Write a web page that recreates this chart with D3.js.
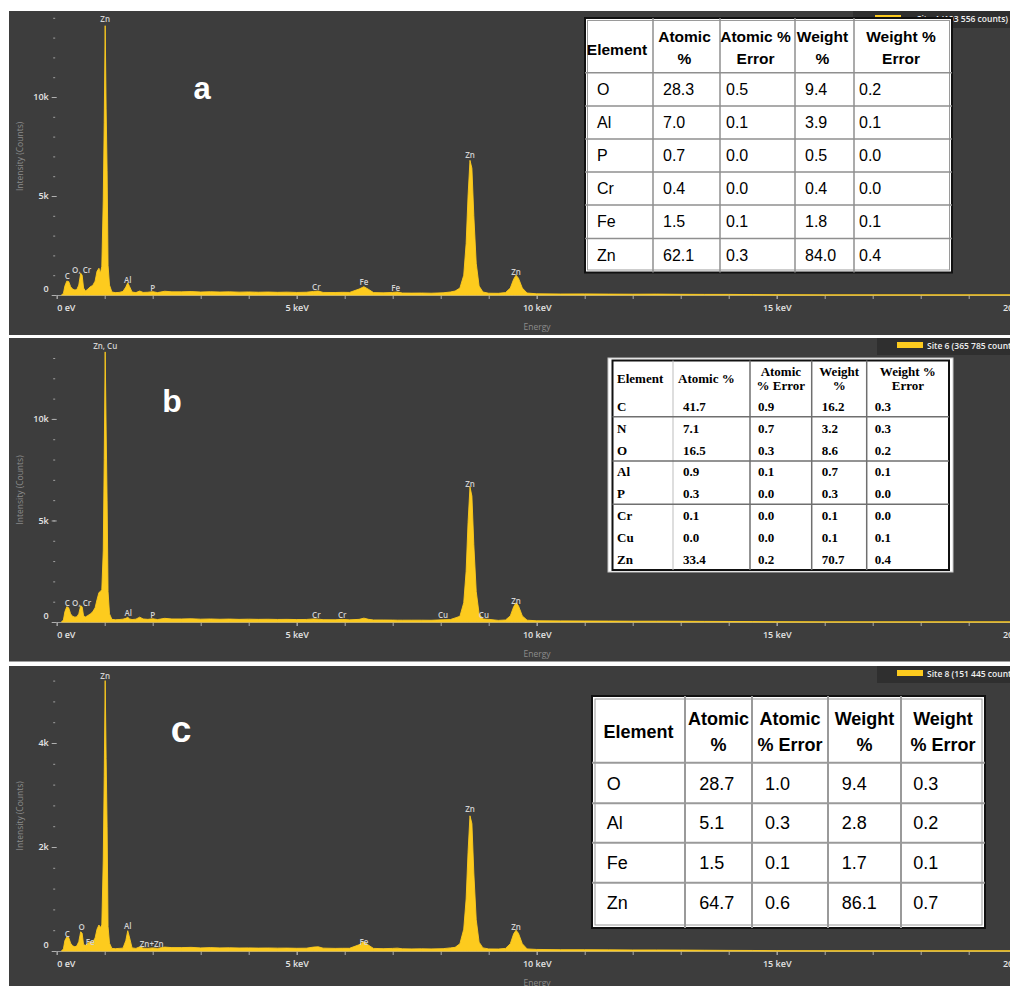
<!DOCTYPE html>
<html>
<head>
<meta charset="utf-8">
<title>EDS spectra a, b, c</title>
<script src="https://d3js.org/d3.v7.min.js"></script>
<style>
  body { margin: 0; background: #fff; }
  svg { display: block; }
</style>
</head>
<body>
<div id="chart"></div>
<script>
// energy grid (keV) shared by the three spectra
const energyKeV = [0.10,0.14,0.17,0.21,0.25,0.29,0.33,0.38,0.42,0.46,
  0.50,0.53,0.56,0.60,0.65,0.70,0.75,0.80,0.84,0.88,
  0.91,0.94,0.97,0.99,1.01,1.03,1.05,1.07,1.10,1.15,
  1.22,1.30,1.38,1.44,1.48,1.52,1.57,1.65,1.73,1.80,
  1.90,2.00,2.10,2.25,2.40,2.60,2.80,3.00,3.20,3.40,
  3.60,3.80,4.00,4.20,4.40,4.60,4.80,5.00,5.20,5.35,
  5.45,5.55,5.80,5.95,6.10,6.30,6.40,6.50,6.60,6.80,
  7.00,7.10,7.20,7.40,7.60,7.80,8.05,8.20,8.30,8.40,
  8.48,8.53,8.57,8.61,8.65,8.69,8.74,8.80,8.88,9.00,
  9.20,9.35,9.45,9.52,9.57,9.62,9.70,9.80,10.0,10.5,
  11.0,11.5,12.0,12.5,13.0,13.5,14.0,14.5,15.0,16.0,18.0,20.0];

// counts
const countsA = [0,80,450,700,680,420,300,250,280,500,
  1100,1000,350,200,300,420,480,700,1200,1350,
  1100,1450,4800,8700,13600,9400,6300,1500,500,150,
  120,130,180,400,620,420,150,120,200,130,
  140,170,120,190,160,160,175,150,165,150,
  160,145,155,140,150,135,145,130,140,180,
  200,130,125,135,130,300,420,280,120,110,
  130,150,100,95,100,90,110,150,200,350,
  1000,2600,5000,6800,6400,4000,1600,450,150,90,
  85,120,350,800,1000,850,350,100,60,50,
  55,45,40,45,35,30,30,20,10,5,5,5];
const countsB = [0,100,500,750,700,400,280,240,260,400,
  800,750,300,250,320,400,500,700,1100,1450,
  1500,1600,3500,8000,13300,9500,6000,1500,400,130,
  110,120,140,180,230,150,120,140,240,150,
  130,160,120,180,150,150,160,140,150,135,
  145,130,140,130,135,125,130,120,125,150,
  140,115,110,130,105,130,190,130,100,100,
  95,90,90,90,90,85,110,120,200,280,
  950,2500,4900,6650,6200,3800,1500,400,150,130,
  80,100,300,750,950,800,300,90,60,55,
  50,45,40,40,35,30,25,20,10,5,5,5];
const countsC = [0,40,200,270,260,150,100,80,100,180,
  370,340,120,110,150,180,170,250,420,500,
  450,500,1750,3350,5200,3700,2400,470,150,50,
  45,50,55,200,390,250,60,50,80,55,
  50,60,50,75,65,65,70,60,65,60,
  62,58,60,56,58,55,56,52,54,75,
  80,55,50,52,52,120,180,110,50,45,
  50,55,42,40,42,40,45,60,70,140,
  420,1000,1900,2600,2450,1500,600,170,60,40,
  38,50,140,330,400,340,140,40,30,25,
  25,22,20,20,18,15,12,10,5,3,3,3];

// peak labels: name, energy (keV), label level (counts)
const peakNamesA = ["C","O, Cr","Zn","Al","P","Cr","Fe","Fe","Zn","Zn"];
const peakKeVA   = [0.22,0.52,1.01,1.48,2.00,5.41,6.40,7.06,8.61,9.57];
const peakLevelA = [960,1310,13940,760,400,450,660,400,7120,1210];
const peakNamesB = ["C","O, Cr","Zn, Cu","Al","P","Cr","Cr","Cu","Cu","Zn","Zn"];
const peakKeVB   = [0.22,0.52,1.01,1.49,2.00,5.41,5.95,8.05,8.90,8.61,9.57];
const peakLevelB = [940,940,13600,490,390,390,390,390,345,6800,1080];
const peakNamesC = ["C","O","Fe","Zn","Al","Zn+Zn","Fe","Zn","Zn"];
const peakKeVC   = [0.22,0.52,0.70,1.01,1.48,1.98,6.40,8.61,9.57];
const peakLevelC = [327,467,192,5290,487,148,192,2750,480];

// axis ticks
const xMajorTicks = [0,5,10,15,20];
const xTickLabels = ["0 eV","5 keV","10 keV","15 keV","20 keV"];
const xMinorTicks = d3.range(0, 21, 1);
const yMajorTicksA = [0,5000,10000];
const yMinorTicksA = d3.range(0, 14001, 1000);
const yMajorTicksB = [0,5000,10000];
const yMinorTicksB = d3.range(0, 13001, 1000);
const yMajorTicksC = [0,2000,4000];
const yMinorTicksC = d3.range(0, 5201, 400);

const legendTexts = ["Site 4 (103 556 counts)","Site 6 (365 785 counts)","Site 8 (151 445 counts)"];
const panelLetters = ["a","b","c"];

// tables
const tableHeadA = [["Element"],["Atomic","%"],["Atomic %","Error"],["Weight","%"],["Weight %","Error"]];
const elementsA  = ["O","Al","P","Cr","Fe","Zn"];
const atomicA    = ["28.3","7.0","0.7","0.4","1.5","62.1"];
const atomicErrA = ["0.5","0.1","0.0","0.0","0.1","0.3"];
const weightA    = ["9.4","3.9","0.5","0.4","1.8","84.0"];
const weightErrA = ["0.2","0.1","0.0","0.0","0.1","0.4"];

const tableHeadB = [["Element"],["Atomic %"],["Atomic","% Error"],["Weight","%"],["Weight %","Error"]];
const elementsB  = ["C","N","O","Al","P","Cr","Cu","Zn"];
const atomicB    = ["41.7","7.1","16.5","0.9","0.3","0.1","0.0","33.4"];
const atomicErrB = ["0.9","0.7","0.3","0.1","0.0","0.0","0.0","0.2"];
const weightB    = ["16.2","3.2","8.6","0.7","0.3","0.1","0.1","70.7"];
const weightErrB = ["0.3","0.3","0.2","0.1","0.0","0.0","0.1","0.4"];

const tableHeadC = [["Element"],["Atomic","%"],["Atomic","% Error"],["Weight","%"],["Weight","% Error"]];
const elementsC  = ["O","Al","Fe","Zn"];
const atomicC    = ["28.7","5.1","1.5","64.7"];
const atomicErrC = ["1.0","0.3","0.1","0.6"];
const weightC    = ["9.4","2.8","1.7","86.1"];
const weightErrC = ["0.3","0.2","0.1","0.7"];

const W = 1010, H = 986;
const BG = "#3d3d3d", YELLOW = "#fdcb1e";
const uiFont = "'Open Sans', 'DejaVu Sans', sans-serif";

const svg = d3.select("#chart").append("svg")
    .attr("width", W).attr("height", H)
    .style("background", "#fff");

const x = d3.scaleLinear().domain([0, 20]).range([56.7, 1016.7]);

const panels = [
  {top: 11, bottom: 335, base: 295, yTopPx: 17.8, yMax: 14000, counts: countsA,
   major: yMajorTicksA, minor: yMinorTicksA,
   names: peakNamesA, keV: peakKeVA, level: peakLevelA,
   legend: {x: 853, y: 11, sw: 875, endAt: 1008}, letter: {x: 202, y: 99, size: 31}},
  {top: 338, bottom: 661.5, base: 622, yTopPx: 358, yMax: 13000, counts: countsB,
   major: yMajorTicksB, minor: yMinorTicksB,
   names: peakNamesB, keV: peakKeVB, level: peakLevelB,
   legend: {x: 877, y: 338, sw: 897}, letter: {x: 172, y: 412, size: 32}},
  {top: 666, bottom: 986, base: 951, yTopPx: 680.6, yMax: 5200, counts: countsC,
   major: yMajorTicksC, minor: yMinorTicksC,
   names: peakNamesC, keV: peakKeVC, level: peakLevelC,
   legend: {x: 877, y: 666, sw: 897}, letter: {x: 181, y: 742, size: 37}}
];

function kFormat(d) { return d === 0 ? "0" : (d / 1000) + "k"; }

panels.forEach(function(p, pi) {
  const g = svg.append("g");
  g.append("rect").attr("x", 9).attr("y", p.top)
    .attr("width", W - 9).attr("height", p.bottom - p.top).attr("fill", BG);

  const y = d3.scaleLinear().domain([0, p.yMax]).range([p.base, p.yTopPx]);

  // y axis: minor then major ticks
  const yMinor = g.append("g").attr("transform", "translate(56.7,0)")
    .call(d3.axisLeft(y).tickValues(p.minor).tickSize(2).tickFormat(""));
  yMinor.select(".domain").remove();
  yMinor.selectAll("line").attr("stroke", "#a0a0a0").attr("transform", "translate(-1.5,0)");

  const yMajor = g.append("g").attr("transform", "translate(56.7,0)")
    .call(d3.axisLeft(y).tickValues(p.major).tickSize(5).tickPadding(3).tickFormat(kFormat));
  yMajor.select(".domain").remove();
  yMajor.selectAll("line").attr("stroke", "#b0b0b0");
  yMajor.selectAll("text").attr("fill", "#e4e4e4").style("font-family", uiFont)
    .style("font-size", "9px").style("font-weight", 600);
  yMajor.selectAll("text").filter(d => d === 0).attr("y", -6);

  // x axis
  const xMinor = g.append("g").attr("transform", "translate(0," + p.base + ")")
    .call(d3.axisBottom(x).tickValues(xMinorTicks).tickSize(4).tickSizeOuter(0).tickFormat(""));
  xMinor.select(".domain").attr("stroke", "#9a9a9a");
  xMinor.selectAll("line").attr("stroke", "#a8a8a8");

  const xMajor = g.append("g").attr("transform", "translate(0," + p.base + ")")
    .call(d3.axisBottom(x).tickValues(xMajorTicks).tickSize(4).tickSizeOuter(0).tickPadding(6)
      .tickFormat((d, i) => xTickLabels[i]));
  xMajor.select(".domain").remove();
  xMajor.selectAll("line").attr("stroke", "#a8a8a8");
  xMajor.selectAll("text").attr("fill", "#e4e4e4").style("font-family", uiFont)
    .style("font-size", "9px").style("font-weight", 600);
  xMajor.selectAll("text").filter(d => d === 0).attr("text-anchor", "start");

  // axis titles
  g.append("text").attr("x", 537).attr("y", p.base + 31)
    .attr("text-anchor", "middle").attr("dominant-baseline", "central")
    .attr("fill", "#8c8c8c").style("font-family", uiFont).style("font-size", "8.5px")
    .text("Energy");
  g.append("text")
    .attr("transform", "translate(19," + ((p.base + p.yTopPx) / 2) + ") rotate(-90)")
    .attr("text-anchor", "middle").attr("dominant-baseline", "central")
    .attr("fill", "#8c8c8c").style("font-family", uiFont).style("font-size", "8.5px")
    .text("Intensity (Counts)");

  // spectrum
  const area = d3.area()
    .x((d, i) => x(energyKeV[i]))
    .y0(y(0))
    .y1(d => y(d));
  g.append("path").datum(p.counts)
    .attr("d", area)
    .attr("fill", YELLOW)
    .attr("stroke", YELLOW).attr("stroke-width", 0.9).attr("stroke-linejoin", "round");

  // peak labels
  g.selectAll(".peak").data(p.names).enter().append("text")
    .attr("x", (d, i) => x(p.keV[i]))
    .attr("y", (d, i) => y(p.level[i]))
    .attr("text-anchor", "middle").attr("dominant-baseline", "central")
    .attr("fill", "#d2d2d2").style("font-family", uiFont).style("font-size", "8px")
    .style("font-weight", 600)
    .text(d => d);

  // legend
  g.append("rect").attr("x", p.legend.x).attr("y", p.legend.y)
    .attr("width", W - p.legend.x).attr("height", 17).attr("fill", "#2f2f2f");
  g.append("rect").attr("x", p.legend.sw).attr("y", p.legend.y + 4)
    .attr("width", 26).attr("height", 6).attr("fill", YELLOW);
  const lt = g.append("text")
    .attr("x", p.legend.endAt ? p.legend.endAt : p.legend.sw + 30)
    .attr("y", p.legend.y + 7.5)
    .attr("text-anchor", p.legend.endAt ? "end" : "start")
    .attr("dominant-baseline", "central")
    .attr("fill", "#f0f0f0").style("font-family", uiFont).style("font-size", "8.5px")
    .style("font-weight", 600)
    .text(legendTexts[pi]);
});

// tables
function drawTable(t) {
  const g = svg.append("g");
  const x0 = t.cols[0], x1 = t.cols[t.cols.length - 1];
  if (t.frame) {
    g.append("rect").attr("x", t.frame[0]).attr("y", t.frame[1])
      .attr("width", t.frame[2] - t.frame[0]).attr("height", t.frame[3] - t.frame[1])
      .attr("fill", "#fff").attr("stroke", "#c8c8c8").attr("stroke-width", 1);
  }
  g.append("rect").attr("x", x0).attr("y", t.top)
    .attr("width", x1 - x0).attr("height", t.bottom - t.top)
    .attr("fill", "#fff").attr("stroke", "#111").attr("stroke-width", 2);
  if (t.inset) {
    g.append("rect").attr("x", x0 + t.inset).attr("y", t.top + t.inset)
      .attr("width", x1 - x0 - 2 * t.inset).attr("height", t.bottom - t.top - 2 * t.inset)
      .attr("fill", "none").attr("stroke", "#9a9a9a").attr("stroke-width", 1);
  }
  t.cols.slice(1, -1).forEach(function(cx, i) {
    g.append("line").attr("x1", cx).attr("x2", cx).attr("y1", t.top).attr("y2", t.bottom)
      .attr("stroke", (t.firstColLight && i === 0) ? "#bdbdbd" : t.grid)
      .attr("stroke-width", (t.firstColLight && i === 0) ? 1 : t.gridW);
  });
  t.hLines.forEach(function(hy) {
    g.append("line").attr("x1", x0).attr("x2", x1).attr("y1", hy).attr("y2", hy)
      .attr("stroke", t.grid).attr("stroke-width", t.gridW);
  });
  t.head.forEach(function(lines, i) {
    const left = t.headAnchor[i] === "start";
    const hx = left ? t.cols[i] + t.headPad[i] : (t.cols[i] + t.cols[i + 1]) / 2 + (t.headShift || 0);
    const ys = lines.length === 1 ? [t.headMid] : t.headLines;
    lines.forEach(function(s, j) {
      g.append("text").attr("x", hx).attr("y", ys[j])
        .attr("text-anchor", left ? "start" : "middle").attr("dominant-baseline", "central")
        .style("font-family", t.font).style("font-size", t.headSize + "px")
        .style("font-weight", 700).attr("fill", "#000")
        .text(s);
    });
  });
  t.body.forEach(function(col, i) {
    col.forEach(function(s, r) {
      g.append("text").attr("x", t.cols[i] + t.pad[i]).attr("y", t.rowMid[r])
        .attr("dominant-baseline", "central")
        .style("font-family", t.font).style("font-size", t.bodySize + "px")
        .style("font-weight", t.bodyWeight).attr("fill", "#000")
        .text(s);
    });
  });
}

drawTable({
  cols: [585, 653, 720, 795, 854, 952], top: 18, bottom: 272.5, inset: 2.5,
  hLines: [72.7, 106, 139, 172, 205, 238.5], grid: "#8f8f8f", gridW: 1.5,
  head: tableHeadA, headAnchor: ["middle","middle","middle","middle","middle"], headShift: -2,
  headMid: 49, headLines: [36.7, 58.3], headSize: 15.5,
  body: [elementsA, atomicA, atomicErrA, weightA, weightErrA],
  pad: [12, 10, 6, 10, 5], rowMid: [89, 122.5, 155.5, 188.5, 221.5, 255.5],
  font: "'Liberation Sans', Arial, sans-serif", bodySize: 16, bodyWeight: 400
});

drawTable({
  frame: [608, 358, 953, 572],
  cols: [612.5, 673, 750, 811.7, 866.7, 949], top: 360.5, bottom: 570,
  hLines: [416.7, 461, 504.3], grid: "#6f6f6f", gridW: 1.5, firstColLight: true,
  head: tableHeadB, headAnchor: ["start","start","middle","middle","middle"], headPad: [4.5, 5],
  headMid: 378.3, headLines: [371, 385.7], headSize: 13,
  body: [elementsB, atomicB, atomicErrB, weightB, weightErrB],
  pad: [4.5, 10, 8, 10, 8], rowMid: [406.7, 428.3, 450, 471.7, 493.3, 515.7, 537.3, 559],
  font: "'Liberation Serif', 'Times New Roman', serif", bodySize: 13, bodyWeight: 700
});

drawTable({
  cols: [592, 685, 752, 828, 901, 985], top: 696, bottom: 928, inset: 3,
  hLines: [762.7, 803.3, 842.7, 882.7], grid: "#9a9a9a", gridW: 2,
  head: tableHeadC, headAnchor: ["middle","middle","middle","middle","middle"],
  headMid: 731.7, headLines: [719.3, 745], headSize: 18,
  body: [elementsC, atomicC, atomicErrC, weightC, weightErrC],
  pad: [14.7, 14.3, 13, 13.7, 12.3], rowMid: [784, 823.3, 863, 902.7],
  font: "'Liberation Sans', Arial, sans-serif", bodySize: 18, bodyWeight: 400
});

// panel letters on top
panels.forEach(function(p, pi) {
  svg.append("text").attr("x", p.letter.x).attr("y", p.letter.y)
    .attr("text-anchor", "middle")
    .attr("fill", "#fff").style("font-family", "'Liberation Sans', Arial, sans-serif")
    .style("font-size", p.letter.size + "px").style("font-weight", 700)
    .text(panelLetters[pi]);
});
</script>
</body>
</html>
